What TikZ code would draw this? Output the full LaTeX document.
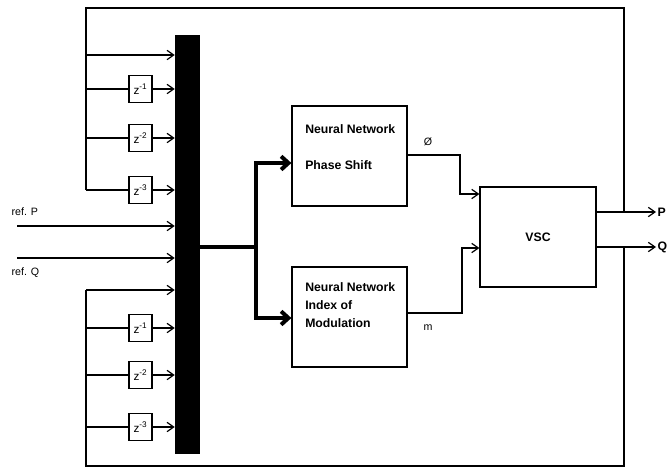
\documentclass[tikz,border=0pt]{standalone}
\usepackage{fontspec}
\setmainfont{Liberation Sans}
\usetikzlibrary{arrows.meta}

\tikzset{
  >={Straight Barb[length=5pt,width=7pt]},
  wire/.style={line width=0.9pt},
  busline/.style={line width=3pt},
  delay/.style={draw, line width=0.9pt, minimum width=17.25pt, minimum height=20.25pt, inner sep=0pt, font=\fontsize{8.8}{10}\selectfont},
  nnbox/.style={draw, line width=0.9pt, minimum width=86.25pt, minimum height=75pt},
  nntext/.style={align=left, inner sep=0pt, font=\fontsize{9.2}{13.5}\bfseries},
  lbl/.style={inner sep=1pt, font=\fontsize{8}{9}\selectfont}
}

\begin{document}
\begin{tikzpicture}[x=0.75pt,y=-0.75pt]
\useasboundingbox (0,0) rectangle (668,468);
% bus and blocks
\node[fill=black, minimum width=18.75pt, minimum height=314.25pt, inner sep=0pt] (bus) at (187.5,244.5) {};
\node[delay] (d1) at (140.5,89) {z\textsuperscript{-1}};
\node[delay] (d2) at (140.5,138) {z\textsuperscript{-2}};
\node[delay] (d3) at (140.5,190) {z\textsuperscript{-3}};
\node[delay] (d4) at (140.5,328) {z\textsuperscript{-1}};
\node[delay] (d5) at (140.5,375) {z\textsuperscript{-2}};
\node[delay] (d6) at (140.5,427) {z\textsuperscript{-3}};
\node[nnbox] (nn1) at (349.5,156) {};
\node[nnbox] (nn2) at (349.5,317) {};
\node[nnbox, minimum width=87pt] (vsc) at (538,237) {};
\node[nntext, anchor=north west] (nn1txt) at (305,124) {Neural Network\\[14pt]Phase Shift};
\node[nntext, anchor=north west] (nn2txt) at (305,282) {Neural Network\\Index of\\Modulation};
\node[nntext] (vsctxt) at (vsc.center) {VSC};
% labels
\node[lbl, anchor=west] (refP) at (10,212) {ref. P};
\node[lbl, anchor=west] (refQ) at (10,273) {ref. Q};
\node[lbl] (phi) at (428,142) {Ø};
\node[lbl] (mlbl) at (428,328) {m};
\node[nntext, inner sep=1pt, anchor=west] (P) at (656,212) {P};
\node[nntext, inner sep=1pt, anchor=west] (Q) at (656,247) {Q};
% feedback loops
\coordinate (pj) at (624,212);
\coordinate (qj) at (624,247);
\coordinate (t0) at (86,55);
\coordinate (b0) at (86,290);
\draw[wire] (pj) -- (624,8) -- (86,8) -- (86,190);
\draw[wire] (qj) -- (624,466) -- (86,466) -- (b0);
\draw[wire,->] (t0) -- (bus.west |- t0);
\draw[wire] (d1.west -| t0) -- (d1.west);
\draw[wire] (d2.west -| t0) -- (d2.west);
\draw[wire] (d3.west -| t0) -- (d3.west);
\draw[wire,->] (d1.east) -- (bus.west |- d1.east);
\draw[wire,->] (d2.east) -- (bus.west |- d2.east);
\draw[wire,->] (d3.east) -- (bus.west |- d3.east);
\draw[wire,->] (b0) -- (bus.west |- b0);
\draw[wire] (d4.west -| b0) -- (d4.west);
\draw[wire] (d5.west -| b0) -- (d5.west);
\draw[wire] (d6.west -| b0) -- (d6.west);
\draw[wire,->] (d4.east) -- (bus.west |- d4.east);
\draw[wire,->] (d5.east) -- (bus.west |- d5.east);
\draw[wire,->] (d6.east) -- (bus.west |- d6.east);
% references
\draw[wire,->] (17,226) -- (bus.west |- 17,226);
\draw[wire,->] (17,258) -- (bus.west |- 17,258);
% bus output
\coordinate (split) at (256,247);
\draw[busline] (bus.east |- split) -- (split);
\draw[busline,-{Straight Barb[length=5.5pt,width=10pt]}] (split) |- ([yshift=-5.25pt]nn1.west);
\draw[busline,-{Straight Barb[length=5.5pt,width=10pt]}] (split) |- ([yshift=-0.75pt]nn2.west);
% to VSC
\draw[wire,->] (nn1.east |- 0,155) -- (460,155) |- ([yshift=32.25pt]vsc.west);
\draw[wire,->] (nn2.east |- 0,313) -- (462,313) |- ([yshift=-8.25pt]vsc.west);
% outputs
\draw[wire,->] ([yshift=18.75pt]vsc.east) -- (P.west);
\draw[wire,->] ([yshift=-7.5pt]vsc.east) -- (Q.west);
\end{tikzpicture}
\end{document}
